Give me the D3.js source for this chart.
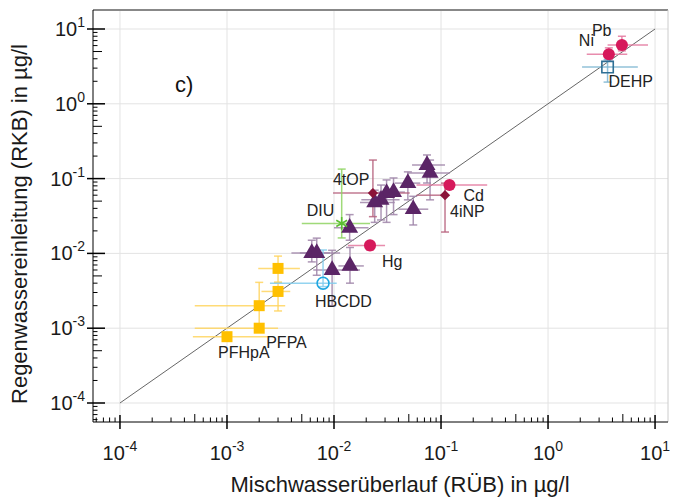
<!DOCTYPE html>
<html>
<head>
<meta charset="utf-8">
<script src="https://cdn.jsdelivr.net/npm/d3@7"></script>
<style>
  body { margin: 0; background: #fff; }
  svg { font-family: 'Liberation Sans', Arial, sans-serif; }
</style>
</head>
<body>
<svg id="chart"></svg>
<script>
// values in µg/l: x = RÜB, y = RKB, with error bar ranges
const metals = [
  {name: 'Pb', x: 4.9, y: 6.1, xlo: 3.6, xhi: 8.6, ylo: 5.1, yhi: 8.0},
  {name: 'Ni', x: 3.7, y: 4.6, xlo: 2.3, xhi: 5.5, ylo: 3.9, yhi: 5.6},
  {name: 'Cd', x: 0.12, y: 0.082, xlo: 0.059, xhi: 0.27, ylo: 0.077, yhi: 0.088},
  {name: 'Hg', x: 0.0217, y: 0.0128, xlo: 0.0135, xhi: 0.030, ylo: 0.0111, yhi: 0.0143}
];

const phenols = [
  {name: '4tOP', x: 0.0231, y: 0.064, xlo: 0.0098, xhi: 0.051, ylo: 0.031, yhi: 0.177},
  {name: '4iNP', x: 0.109, y: 0.060, xlo: 0.059, xhi: 0.109, ylo: 0.0193, yhi: 0.087}
];

const diuron = [
  {name: 'DIU', x: 0.0118, y: 0.0252, xlo: 0.0050, xhi: 0.0217, ylo: 0.0161, yhi: 0.134}
];

const dehp = [
  {name: 'DEHP', x: 3.6, y: 3.1, xlo: 2.08, xhi: 6.9, ylo: 1.95, yhi: 3.9}
];

const hbcdd = [
  {name: 'HBCDD', x: 0.0079, y: 0.0040, xlo: 0.00252, xhi: 0.0106, ylo: 0.0036, yhi: 0.0111}
];

const pfas = [
  {name: '', x: 0.0030, y: 0.0063, xlo: 0.00196, xhi: 0.0048, ylo: 0.0041, yhi: 0.0092},
  {name: '', x: 0.0030, y: 0.0031, xlo: 0.0021, xhi: 0.0039, ylo: 0.0017, yhi: 0.0041},
  {name: '', x: 0.0020, y: 0.0020, xlo: 0.00050, xhi: 0.0035, ylo: 0.0011, yhi: 0.0041},
  {name: 'PFPA', x: 0.0020, y: 0.0010, xlo: 0.00050, xhi: 0.0030, ylo: 0.0010, yhi: 0.0010},
  {name: 'PFHpA', x: 0.0010, y: 0.00077, xlo: 0.00048, xhi: 0.00252, ylo: 0.00077, yhi: 0.00077}
];

const others = [
  {x: 0.074, y: 0.152, xlo: 0.0536, xhi: 0.109, ylo: 0.0873, yhi: 0.207},
  {x: 0.079, y: 0.119, xlo: 0.049, xhi: 0.121, ylo: 0.052, yhi: 0.177},
  {x: 0.049, y: 0.087, xlo: 0.037, xhi: 0.064, ylo: 0.052, yhi: 0.123},
  {x: 0.036, y: 0.066, xlo: 0.026, xhi: 0.046, ylo: 0.033, yhi: 0.102},
  {x: 0.031, y: 0.064, xlo: 0.022, xhi: 0.041, ylo: 0.026, yhi: 0.096},
  {x: 0.0275, y: 0.052, xlo: 0.018, xhi: 0.041, ylo: 0.028, yhi: 0.082},
  {x: 0.024, y: 0.048, xlo: 0.0175, xhi: 0.037, ylo: 0.026, yhi: 0.070},
  {x: 0.055, y: 0.039, xlo: 0.040, xhi: 0.076, ylo: 0.024, yhi: 0.058},
  {x: 0.014, y: 0.022, xlo: 0.010, xhi: 0.021, ylo: 0.015, yhi: 0.033},
  {x: 0.0062, y: 0.0101, xlo: 0.0040, xhi: 0.0092, ylo: 0.0077, yhi: 0.015},
  {x: 0.0069, y: 0.0101, xlo: 0.0048, xhi: 0.0114, ylo: 0.0051, yhi: 0.016},
  {x: 0.0096, y: 0.0060, xlo: 0.0064, xhi: 0.0175, ylo: 0.0020, yhi: 0.011},
  {x: 0.0141, y: 0.0068, xlo: 0.011, xhi: 0.019, ylo: 0.0040, yhi: 0.012}
];

const decades = [-4, -3, -2, -1, 0, 1];
const identityLine = [1e-4, 10];

// label offsets (px) from the marker
const labelPos = {
  Pb: [-30, -9], Ni: [-30, -8], Cd: [14, 16], Hg: [12, 22],
  '4tOP': [-40, -8], '4iNP': [5, 22], DIU: [-35, -7], DEHP: [1, 20],
  HBCDD: [-8, 24], PFPA: [7, 20], PFHpA: [-9, 21]
};

const margin = {top: 10, bottom: 79, left: 93, right: 12};
const width = 680 - margin.left - margin.right;
const height = 501 - margin.top - margin.bottom;

const root = d3.select('#chart')
.attr('width', 680)
.attr('height', 501);

const svg = root.append('g')
.attr('transform', `translate(${margin.left}, ${margin.top})`);

const x = d3.scaleLog()
.domain([Math.pow(10, -4.252), Math.pow(10, 1.121)])
.range([0, width]);

const y = d3.scaleLog()
.domain([Math.pow(10, -4.254), Math.pow(10, 1.254)])
.range([height, 0]);

// grid
svg.selectAll('.vgrid')
.data(decades)
.enter()
.append('line')
.attr('x1', d => x(Math.pow(10, d))).attr('x2', d => x(Math.pow(10, d)))
.attr('y1', 0).attr('y2', height)
.attr('stroke', '#e3e3e3').attr('stroke-width', 1);

svg.selectAll('.hgrid')
.data(decades)
.enter()
.append('line')
.attr('x1', 0).attr('x2', width)
.attr('y1', d => y(Math.pow(10, d))).attr('y2', d => y(Math.pow(10, d)))
.attr('stroke', '#e3e3e3').attr('stroke-width', 1);

// frame top and right
svg.append('line')
.attr('x1', 0).attr('x2', width).attr('y1', 0).attr('y2', 0)
.attr('stroke', '#888').attr('stroke-width', 2);
svg.append('line')
.attr('x1', width).attr('x2', width).attr('y1', 0).attr('y2', height)
.attr('stroke', '#ccc').attr('stroke-width', 1);

// 1:1 line
svg.append('line')
.attr('x1', x(identityLine[0])).attr('y1', y(identityLine[0]))
.attr('x2', x(identityLine[1])).attr('y2', y(identityLine[1]))
.attr('stroke', '#666').attr('stroke-width', 1);

// axes with minor ticks inside, major ticks crossing
const allTicks = [];
for (let e = -5; e <= 1; e++) {
  for (let k = 1; k <= 9; k++) allTicks.push(k * Math.pow(10, e));
}
const xTicks = allTicks.filter(v => v >= x.domain()[0] && v <= x.domain()[1]);
const yTicks = allTicks.filter(v => v >= y.domain()[0] && v <= y.domain()[1]);
const isMajor = v => Math.abs(Math.log10(v) - Math.round(Math.log10(v))) < 1e-9;
const isFive = v => Math.abs(v / Math.pow(10, Math.floor(Math.log10(v) + 1e-9)) - 5) < 1e-6;

const xAxis = svg.append('g').attr('transform', `translate(0, ${height})`);
xAxis.append('line').attr('x1', 0).attr('x2', width).attr('stroke', '#000').attr('stroke-width', 1);
xAxis.selectAll('.tk')
.data(xTicks)
.enter()
.append('line')
.attr('x1', d => x(d)).attr('x2', d => x(d))
.attr('y1', d => isMajor(d) ? -7 : (isFive(d) ? -8 : -4.5))
.attr('y2', d => isMajor(d) ? 7 : 0)
.attr('stroke', '#000').attr('stroke-width', d => isMajor(d) ? 1.5 : 1);

const yAxis = svg.append('g');
yAxis.append('line').attr('y1', 0).attr('y2', height).attr('stroke', '#000').attr('stroke-width', 1);
yAxis.selectAll('.tk')
.data(yTicks)
.enter()
.append('line')
.attr('y1', d => y(d)).attr('y2', d => y(d))
.attr('x1', d => isMajor(d) ? -6 : 0)
.attr('x2', d => isMajor(d) ? 12 : (isFive(d) ? 9 : 4.5))
.attr('stroke', '#000').attr('stroke-width', d => isMajor(d) ? 1.5 : 1);

// tick labels 10^n
decades.forEach(e => {
  const tx = svg.append('text')
  .attr('x', x(Math.pow(10, e)))
  .attr('y', height + 38)
  .attr('text-anchor', 'middle')
  .style('font-size', '20px')
  .style('fill', '#1a1a1a');
  tx.append('tspan').text('10');
  tx.append('tspan').attr('dy', -9).style('font-size', '14px').text(e);

  const ty = svg.append('text')
  .attr('x', -8)
  .attr('y', y(Math.pow(10, e)) + 7)
  .attr('text-anchor', 'end')
  .style('font-size', '20px')
  .style('fill', '#1a1a1a');
  ty.append('tspan').text('10');
  ty.append('tspan').attr('dy', -9).style('font-size', '14px').text(e);
});

root.append('text')
.attr('x', 400)
.attr('y', 492)
.attr('text-anchor', 'middle')
.style('font-size', '22px')
.style('fill', '#1a1a1a')
.text('Mischwasserüberlauf (RÜB) in µg/l');

root.append('text')
.attr('transform', 'translate(27, 224) rotate(-90)')
.attr('text-anchor', 'middle')
.style('font-size', '22px')
.style('fill', '#1a1a1a')
.text('Regenwassereinleitung (RKB) in µg/l');

svg.append('text')
.attr('x', 175 - margin.left)
.attr('y', 92 - margin.top)
.style('font-size', '22px')
.style('fill', '#111')
.text('c)');

const groups = [
  {data: others, symbol: d3.symbolTriangle, size: 125, fill: '#5b2566', stroke: 'none', bar: '#a086aa'},
  {data: pfas, symbol: d3.symbolSquare, size: 121, fill: '#ffc000', stroke: 'none', bar: '#ffd560'},
  {data: metals, symbol: d3.symbolCircle, size: 115, fill: '#d6195b', stroke: 'none', bar: '#e5799f'},
  {data: phenols, symbol: d3.symbolSquare, size: 52, fill: '#8b1338', stroke: 'none', bar: '#b8637f', rotate: 45},
  {data: diuron, symbol: d3.symbolAsterisk, size: 110, fill: 'none', stroke: '#5cbf33', bar: '#8fd462'},
  {data: dehp, symbol: d3.symbolSquare, size: 130, fill: 'none', stroke: '#2e6f95', bar: '#7fb7d2'},
  {data: hbcdd, symbol: d3.symbolCircle, size: 110, fill: 'none', stroke: '#1fa6e0', bar: '#82cdee'}
];

// error bars first
const bars = svg.append('g');
groups.forEach(g => {
  g.data.forEach(d => {
    bars.append('line')
    .attr('x1', x(d.xlo)).attr('x2', x(d.xhi))
    .attr('y1', y(d.y)).attr('y2', y(d.y))
    .attr('stroke', g.bar).attr('stroke-width', 1.5).attr('opacity', 0.85);
    if (d.ylo !== d.yhi) {
      bars.append('line')
      .attr('x1', x(d.x)).attr('x2', x(d.x))
      .attr('y1', y(d.ylo)).attr('y2', y(d.yhi))
      .attr('stroke', g.bar).attr('stroke-width', 1.5).attr('opacity', 0.85);
      [d.ylo, d.yhi].forEach(v => {
        bars.append('line')
        .attr('x1', x(d.x) - 4).attr('x2', x(d.x) + 4)
        .attr('y1', y(v)).attr('y2', y(v))
        .attr('stroke', g.bar).attr('stroke-width', 1.5).attr('opacity', 0.85);
      });
    }
  });
});

const marks = svg.append('g');
groups.forEach(g => {
  marks.selectAll(null)
  .data(g.data)
  .enter()
  .append('path')
  .attr('d', d3.symbol().type(g.symbol).size(g.size))
  .attr('transform', d => `translate(${x(d.x)}, ${y(d.y)})` + (g.rotate ? ` rotate(${g.rotate})` : ''))
  .attr('fill', g.fill)
  .attr('stroke', g.stroke)
  .attr('stroke-width', 1.6);
});

// labels
const labelled = [].concat(metals, phenols, diuron, dehp, hbcdd, pfas).filter(d => d.name);
svg.selectAll('.lbl')
.data(labelled)
.enter()
.append('text')
.attr('x', d => x(d.x) + labelPos[d.name][0])
.attr('y', d => y(d.y) + labelPos[d.name][1])
.style('font-size', '16px')
.style('fill', '#222')
.text(d => d.name);
</script>
</body>
</html>
